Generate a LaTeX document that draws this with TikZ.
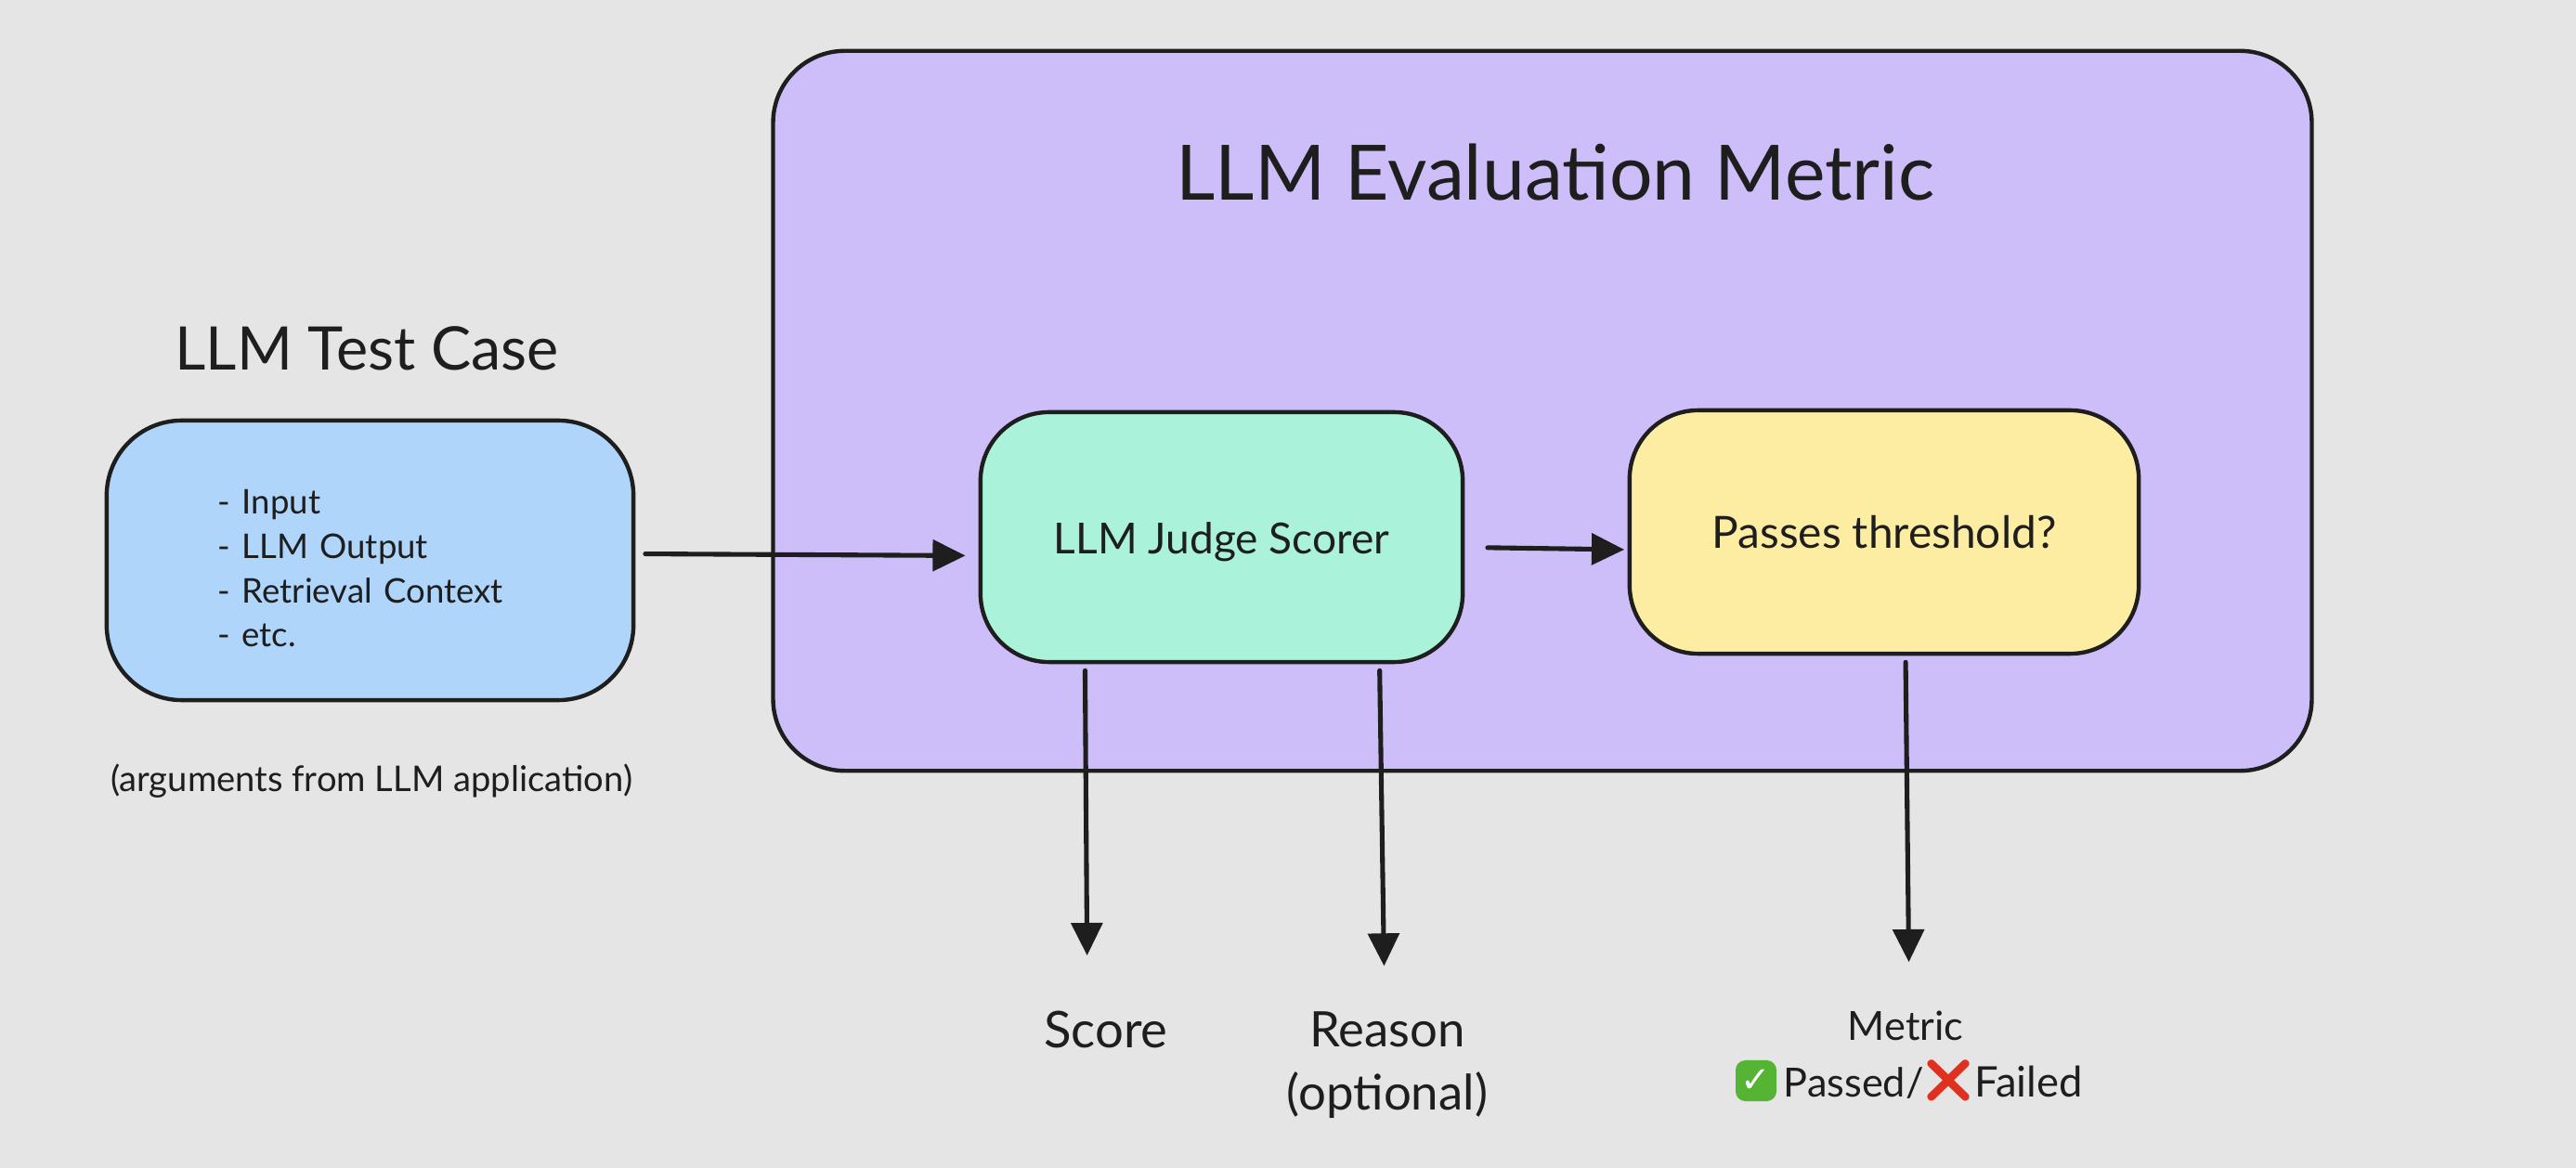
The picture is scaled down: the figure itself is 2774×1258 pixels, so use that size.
\documentclass[tikz,border=0pt]{standalone}
\usepackage{fontspec}
\setmainfont{Lato}
\newfontfamily\emojifont{Noto Emoji}
\newfontfamily\symbfont{DejaVu Sans}
\usepackage{xcolor}
\usetikzlibrary{arrows.meta,positioning}
\definecolor{canvas}{HTML}{E5E5E5}
\definecolor{ink}{HTML}{1E1E1E}
\definecolor{violetbox}{HTML}{CDBEFA}
\definecolor{bluebox}{HTML}{AFD5FB}
\definecolor{greenbox}{HTML}{ABF2DA}
\definecolor{yellowbox}{HTML}{FDEDA3}
\definecolor{okgreen}{HTML}{56B434}
\definecolor{badred}{HTML}{E03020}

\begin{document}
\begin{tikzpicture}[x=0.01cm,y=-0.01cm]
	\tikzstyle{every node} = [text = ink]
	\tikzstyle{box} = [draw = ink, line width = 1.25pt, inner sep = 0pt]
	\tikzstyle{link} = [draw = ink, line width = 1.45pt, line cap = round, -{Triangle[length = 10pt, width = 9.5pt]}]
\fill[canvas] (0, 0) rectangle (2774, 1258);
\node[box, fill = violetbox, minimum width = 16.56cm, minimum height = 7.75cm, rounded corners = 22pt] (metric) at (1661, 442.5) {};
\node[box, fill = bluebox, minimum width = 5.67cm, minimum height = 3.01cm, rounded corners = 23pt, align = left, text width = 3.27cm, inner xsep = 1.2cm, font = \fontsize{10.4}{13.6}\selectfont] (case) at (398.5, 603.5) {- Input\\- LLM Output\\- Retrieval Context\\- etc.\vspace{-5pt}};
\node[box, fill = greenbox, minimum width = 5.19cm, minimum height = 2.69cm, rounded corners = 21pt, font = \fontsize{13.1}{16}\selectfont] (judge) at (1315.5, 578.5) {\raisebox{-5pt}[0pt][0pt]{LLM Judge Scorer}};
\node[box, fill = yellowbox, minimum width = 5.48cm, minimum height = 2.62cm, rounded corners = 21pt, font = \fontsize{13.6}{16}\selectfont] (gate) at (2029, 573) {Passes threshold?};
\node[font = \fontsize{23.4}{28}\selectfont] (metrictitle) at (1675, 186) {LLM Evaluation Metric};
\node[font = \fontsize{18.4}{22}\selectfont] (casetitle) at (395, 375) {LLM Test Case};
\node[font = \fontsize{10.85}{13}\selectfont] (caseinfo) at (400, 841) {(arguments from LLM application)};
\node[font = \fontsize{15.5}{18}\selectfont] (score) at (1191, 1109) {Score};
\node[font = \fontsize{15}{19.2}\selectfont, align = center] (reason) at (1494, 1147) {Reason\\(optional)};
\node[font = \fontsize{12.3}{15}\selectfont] (verdict) at (2052, 1105) {Metric};
\node[fill = okgreen, rounded corners = 3pt, minimum size = 0.44cm, inner sep = 0pt, text = white, font = \symbfont\bfseries\fontsize{11}{11}\selectfont] (okmark) at (1891, 1164) {✓};
\node[inner sep = 0pt, anchor = base west, font = \fontsize{12.3}{15}\selectfont] (passed) at (1920, 1181) {Passed/};
\node[inner sep = 0pt, text = badred, font = \emojifont\fontsize{13}{13}\selectfont] (badmark) at (2099, 1164) {❌};
\node[inner sep = 0pt, anchor = base west, font = \fontsize{12.9}{15}\selectfont] (failed) at (2126, 1181) {Failed};
	\path[link, shorten < = 3pt, shorten > = 4pt] ([yshift = 0.07cm]case.east) -- ([yshift = -0.2cm]judge.west);
	\path[link, shorten < = 7pt, shorten > = 1pt] ([yshift = -0.11cm]judge.east) -- ([yshift = -0.19cm]gate.west);
	\path[link, shorten < = 2pt, shorten > = 13.5pt] ([xshift = -1.47cm]judge.south) -- ([xshift = -0.2cm]score.north);
	\path[link, shorten < = 2pt, shorten > = 10.5pt] ([xshift = 1.7cm]judge.south) -- ([xshift = -0.03cm]reason.north);
	\path[link, shorten < = 2pt, shorten > = 11.5pt] ([xshift = 0.23cm]gate.south) -- ([xshift = 0.04cm]verdict.north);
\end{tikzpicture}
\end{document}
